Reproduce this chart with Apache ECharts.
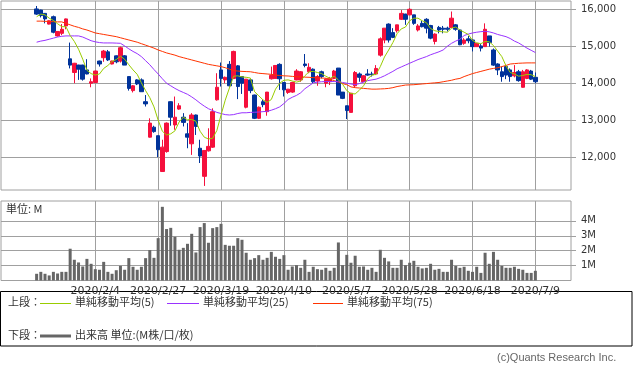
<!DOCTYPE html>
<html><head><meta charset="utf-8">
<script src="https://cdn.jsdelivr.net/npm/echarts@6/dist/echarts.min.js"></script>
<style>html,body{margin:0;padding:0;background:#fff}#c{width:633px;height:373px}</style>
</head><body><div id="c"></div>
<script>
// ---- data ----
const dates = [
'2020/1/15','2020/1/16','2020/1/17','2020/1/20','2020/1/21','2020/1/22','2020/1/23','2020/1/24','2020/1/27','2020/1/28','2020/1/29','2020/1/30','2020/1/31',
'2020/2/3','2020/2/4','2020/2/5','2020/2/6','2020/2/7','2020/2/10','2020/2/12','2020/2/13','2020/2/14','2020/2/17','2020/2/18','2020/2/19','2020/2/20','2020/2/21','2020/2/25','2020/2/26','2020/2/27','2020/2/28',
'2020/3/2','2020/3/3','2020/3/4','2020/3/5','2020/3/6','2020/3/9','2020/3/10','2020/3/11','2020/3/12','2020/3/13','2020/3/16','2020/3/17','2020/3/18','2020/3/19','2020/3/23','2020/3/24','2020/3/25','2020/3/26','2020/3/27','2020/3/30','2020/3/31',
'2020/4/1','2020/4/2','2020/4/3','2020/4/6','2020/4/7','2020/4/8','2020/4/9','2020/4/10','2020/4/13','2020/4/14','2020/4/15','2020/4/16','2020/4/17','2020/4/20','2020/4/21','2020/4/22','2020/4/23','2020/4/24','2020/4/27','2020/4/28','2020/4/30',
'2020/5/1','2020/5/7','2020/5/8','2020/5/11','2020/5/12','2020/5/13','2020/5/14','2020/5/15','2020/5/18','2020/5/19','2020/5/20','2020/5/21','2020/5/22','2020/5/25','2020/5/26','2020/5/27','2020/5/28','2020/5/29',
'2020/6/1','2020/6/2','2020/6/3','2020/6/4','2020/6/5','2020/6/8','2020/6/9','2020/6/10','2020/6/11','2020/6/12','2020/6/15','2020/6/16','2020/6/17','2020/6/18','2020/6/19','2020/6/22','2020/6/23','2020/6/24','2020/6/25','2020/6/26','2020/6/29','2020/6/30',
'2020/7/1','2020/7/2','2020/7/3','2020/7/6','2020/7/7','2020/7/8','2020/7/9'
];
const tickLabels = ['2020/2/4','2020/2/27','2020/3/19','2020/4/10','2020/5/7','2020/5/28','2020/6/18','2020/7/9'];
const priceTicks = [12000,13000,14000,15000,16000];
const volumeTicks = [1,2,3,4];

const open = [16010,15980,15890,15600,15800,15280,15350,15550,14660,14290,14490,14490,14360,14000,14020,14600,14690,14850,14520,14740,14600,14740,14180,13800,14090,14090,13500,12540,12810,12580,11610,12150,13500,12870,13300,13080,12630,12360,13140,12240,11480,12170,12270,13550,14360,14090,14510,14130,14470,14180,13350,14090,13680,13050,13500,13230,14120,14130,14510,14020,13750,13760,14090,14090,14520,14310,14380,14060,14310,14000,14040,14130,14410,13760,13390,13210,13930,14250,14040,14250,14250,14250,14760,15170,15600,15370,15420,15730,15870,15850,15850,15440,15620,15730,15560,15130,15510,15490,15490,15510,15580,15440,15080,15200,15170,14990,15010,14990,15280,14900,14520,14310,14450,14360,14200,14310,13890,14130,14330,14160];
const close = [15870,15830,15740,15690,15380,15400,15460,15740,14490,14540,14380,14110,14250,14040,14330,14520,14870,14630,14600,14580,14960,14490,13860,13930,13980,13770,13440,12920,12690,12200,12270,12920,13080,13080,13390,12940,12540,13140,12830,12030,12180,12290,13230,13890,14130,14160,13930,14860,13910,14000,14110,13800,13050,13350,13420,13760,14210,14480,14120,13820,13840,14020,14330,14310,14480,14430,14040,14180,14180,14110,14130,14330,13680,13590,13260,13730,14290,14160,14200,14220,14230,14400,15200,15490,15170,15240,15580,15890,15730,16000,15620,15550,15530,15490,15220,15330,15440,15460,15460,15760,15460,15040,15170,15150,14990,15080,14950,15460,15100,14490,14360,14180,14220,14180,14290,14070,14310,14360,14110,14040];
const low = [15850,15780,15620,15590,15350,15260,15300,15460,14400,14000,14090,14070,14240,13890,14000,14450,14580,14600,14510,14540,14560,14490,13800,13750,13950,13770,13370,12530,12660,12000,11600,12120,12850,12740,13280,12830,12240,12060,12600,11840,11220,12150,12250,13530,13910,14000,13910,14110,13570,13710,13320,13730,13030,13030,13350,13120,14100,14130,13820,13640,13710,13740,14080,14040,14430,14270,14000,13930,14130,13890,13950,14110,13680,13570,13030,13210,13890,14040,14040,14200,14180,14220,14720,15080,15100,15220,15370,15710,15580,15840,15580,15400,15510,15350,15190,15050,15350,15350,15400,15490,15420,15030,15040,15080,14860,14980,14860,14980,14990,14470,14220,14040,14110,14040,14160,14040,13880,14110,14090,14000];
const high = [16090,15990,15900,15700,15830,15410,15600,15750,15100,14550,14500,14500,14650,14130,14340,14610,14900,14900,14610,14750,14990,14760,14180,13950,14110,14130,13680,13050,12850,12580,12470,12940,13510,13640,13460,13190,12920,13190,13150,12470,12180,12780,13320,14270,14560,14180,14600,14880,14490,14180,14110,14110,13690,13370,13560,13760,14450,14480,14540,14020,13840,14040,14380,14330,14790,14540,14400,14220,14340,14130,14170,14360,14410,13760,13390,13730,14330,14290,14220,14380,14310,14490,15240,15490,15620,15490,15580,15980,15880,16030,15850,15600,15690,15760,15580,15350,15550,15550,15530,15940,15600,15450,15220,15280,15190,15090,15060,15620,15280,14940,14540,14450,14470,14400,14490,14360,14360,14380,14360,14290];

const ma5 = [15800,15870,15850,15760,15700,15610,15530,15530,15290,15130,14920,14650,14350,14260,14220,14250,14400,14480,14590,14640,14730,14650,14500,14360,14240,14010,13800,13610,13360,13000,12700,12600,12630,12710,12950,13080,13010,13020,12970,12700,12540,12490,12510,12720,13140,13540,13870,14190,14200,14170,14160,14140,13770,13660,13550,13480,13560,13840,14000,14080,14090,14060,14030,14060,14200,14310,14320,14290,14260,14190,14130,14190,14090,13970,13800,13720,13710,13810,13930,14120,14220,14240,14450,14710,14900,15100,15340,15470,15520,15690,15760,15760,15690,15640,15480,15420,15400,15390,15380,15490,15520,15440,15380,15320,15160,15090,15070,15130,15120,15020,14870,14720,14470,14290,14250,14190,14210,14240,14230,14180];
const ma25 = [15110,15140,15160,15190,15220,15250,15270,15280,15280,15280,15280,15250,15200,15150,15120,15100,15090,15090,15090,15085,15080,15010,14930,14860,14800,14720,14610,14500,14370,14250,14120,14000,13930,13860,13800,13750,13700,13630,13550,13460,13380,13310,13260,13210,13180,13150,13140,13150,13180,13200,13200,13210,13215,13220,13230,13240,13270,13310,13360,13450,13560,13620,13670,13740,13850,13930,14010,14030,14040,14045,14045,14045,14040,14020,14000,13980,13960,13990,14030,14070,14090,14110,14150,14200,14260,14320,14390,14440,14490,14540,14590,14640,14680,14720,14770,14810,14850,14900,15000,15080,15140,15190,15290,15330,15360,15380,15395,15405,15390,15360,15320,15290,15260,15210,15140,15090,15020,14950,14890,14830];
const ma75 = [15680,15680,15675,15670,15665,15660,15660,15620,15580,15540,15510,15470,15440,15400,15360,15340,15320,15300,15280,15260,15230,15200,15170,15140,15110,15070,15030,14990,14950,14900,14860,14820,14790,14760,14720,14690,14660,14630,14600,14570,14540,14510,14490,14470,14450,14420,14380,14340,14330,14320,14315,14310,14290,14270,14260,14250,14240,14220,14210,14200,14195,14185,14175,14170,14165,14160,14150,14145,14140,14135,14110,14070,14030,13990,13960,13900,13880,13870,13860,13850,13840,13840,13845,13850,13860,13880,13910,13930,13950,13955,13960,13970,13980,13990,14000,14010,14020,14040,14060,14080,14110,14130,14180,14220,14260,14290,14320,14350,14380,14400,14420,14450,14480,14520,14530,14540,14545,14550,14550,14550];

const volume = [0.45,0.58,0.45,0.34,0.58,0.47,0.58,0.58,2.13,1.39,1.21,0.94,1.45,1.12,0.76,0.72,1.25,0.58,0.45,0.69,0.98,0.72,1.50,0.92,0.72,0.92,1.50,2.04,1.52,2.84,4.94,3.45,3.53,2.93,2.06,2.19,2.46,3.13,1.88,3.58,3.85,2.53,3.51,3.58,3.80,2.39,2.33,2.33,2.84,2.73,1.86,1.39,1.50,1.70,1.39,1.52,1.92,1.59,1.45,1.70,0.72,0.94,1.03,0.85,1.39,0.58,0.92,0.76,0.72,0.85,0.65,0.85,2.55,1.03,1.72,1.19,1.66,0.92,0.94,0.72,0.85,0.58,2.06,1.52,1.28,0.85,0.85,1.39,1.03,1.19,1.32,0.92,0.81,0.85,1.12,0.72,0.78,0.58,0.58,1.39,0.98,0.85,0.92,0.65,0.58,0.92,0.51,1.86,1.12,1.92,1.39,0.98,0.85,0.85,0.92,0.78,0.72,0.51,0.51,0.65];

// ---- build ----
const PAD_BEFORE = 8, PAD_AFTER = 8;
const pre = Array.from({length: PAD_BEFORE}, (_, i) => 'pre' + i);
const post = Array.from({length: PAD_AFTER}, (_, i) => 'post' + i);
const cats = pre.concat(dates, post);
const padB = Array(PAD_BEFORE).fill('-'), padA = Array(PAD_AFTER).fill('-');
const ohlc = dates.map((d, i) => [open[i], close[i], low[i], high[i]]);
const pad = arr => padB.concat(arr, padA);
const tickSet = new Set(tickLabels);
const showTick = (idx, val) => tickSet.has(val);

const GRID = '#a0a0a0';
const JP = '"Noto Sans CJK JP"';
const chart = echarts.init(document.getElementById('c'), null, {renderer: 'canvas'});
chart.setOption({
  animation: false,
  backgroundColor: '#fff',
  grid: [
    {left: 1, top: 1, width: 570, height: 189, show: true, borderColor: GRID, borderWidth: 1, containLabel: false},
    {left: 1, top: 201, width: 570, height: 79.5, show: true, borderColor: GRID, borderWidth: 1, containLabel: false}
  ],
  xAxis: [
    {type: 'category', gridIndex: 0, data: cats, boundaryGap: true,
     axisLine: {show: false}, axisTick: {show: false}, axisLabel: {show: false},
     splitLine: {show: true, interval: showTick, alignWithLabel: true, lineStyle: {color: GRID, width: 1}}},
    {type: 'category', gridIndex: 1, data: cats, boundaryGap: true,
     axisLine: {show: false}, axisTick: {show: false},
     axisLabel: {show: true, interval: showTick, color: '#333', fontFamily: 'DejaVu Sans', fontSize: 11, margin: 5},
     splitLine: {show: true, interval: showTick, alignWithLabel: true, lineStyle: {color: GRID, width: 1}}}
  ],
  yAxis: [
    {type: 'value', gridIndex: 0, position: 'right', min: 11110, max: 16225,
     axisLine: {show: false},
     axisTick: {show: true, length: 5, customValues: priceTicks, lineStyle: {color: GRID}},
     axisLabel: {show: true, customValues: priceTicks, color: '#333', fontFamily: 'DejaVu Sans', fontSize: 10, margin: 10,
       formatter: v => Number(v).toLocaleString('en-US')},
     splitLine: {show: true, lineStyle: {color: GRID, width: 1}}},
    {type: 'value', gridIndex: 1, position: 'right', min: 0, max: 5.33,
     axisLine: {show: false},
     axisTick: {show: true, length: 5, customValues: volumeTicks, lineStyle: {color: GRID}},
     axisLabel: {show: true, customValues: volumeTicks, color: '#333', fontFamily: 'DejaVu Sans', fontSize: 10, margin: 10,
       formatter: v => v + 'M'},
     splitLine: {show: true, lineStyle: {color: GRID, width: 1}}}
  ],
  series: [
    {type: 'candlestick', xAxisIndex: 0, yAxisIndex: 0, data: pad(ohlc), barWidth: 4,
     itemStyle: {color: '#f5103c', color0: '#00339a', borderColor: '#f5103c', borderColor0: '#00339a', borderWidth: 1}, z: 2},
    {type: 'line', name: '単純移動平均(75)', xAxisIndex: 0, yAxisIndex: 0, data: pad(ma75), showSymbol: false, symbol: 'none',
     lineStyle: {color: '#ff3300', width: 1}, z: 3},
    {type: 'line', name: '単純移動平均(25)', xAxisIndex: 0, yAxisIndex: 0, data: pad(ma25), showSymbol: false, symbol: 'none',
     lineStyle: {color: '#9933ff', width: 1}, z: 3},
    {type: 'line', name: '単純移動平均(5)', xAxisIndex: 0, yAxisIndex: 0, data: pad(ma5), showSymbol: false, symbol: 'none',
     lineStyle: {color: '#99cc00', width: 1}, z: 3},
    {type: 'bar', name: '出来高', xAxisIndex: 1, yAxisIndex: 1, data: pad(volume), barWidth: 3,
     itemStyle: {color: '#666666'}}
  ],
  graphic: [
    {type: 'text', left: 6, top: 203, style: {text: '単位: M', fill: '#333', font: '11px ' + JP}},
    {type: 'rect', shape: {x: 0.5, y: 291.5, width: 631.5, height: 54.5}, style: {fill: 'none', stroke: '#000', lineWidth: 1}},
    {type: 'text', left: 8, top: 296, style: {text: '上段：', fill: '#333', font: '11px ' + JP}},
    {type: 'line', shape: {x1: 40, y1: 303.5, x2: 71, y2: 303.5}, style: {stroke: '#99cc00', lineWidth: 1}},
    {type: 'text', left: 75, top: 296, style: {text: '単純移動平均(5)', fill: '#333', font: '11px ' + JP}},
    {type: 'line', shape: {x1: 167, y1: 303.5, x2: 199, y2: 303.5}, style: {stroke: '#9933ff', lineWidth: 1}},
    {type: 'text', left: 203, top: 296, style: {text: '単純移動平均(25)', fill: '#333', font: '11px ' + JP}},
    {type: 'line', shape: {x1: 313, y1: 303.5, x2: 343, y2: 303.5}, style: {stroke: '#ff3300', lineWidth: 1}},
    {type: 'text', left: 347, top: 296, style: {text: '単純移動平均(75)', fill: '#333', font: '11px ' + JP}},
    {type: 'text', left: 8, top: 329, style: {text: '下段：', fill: '#333', font: '11px ' + JP}},
    {type: 'line', shape: {x1: 40, y1: 336, x2: 71, y2: 336}, style: {stroke: '#666666', lineWidth: 3}},
    {type: 'text', left: 75, top: 329, style: {text: '出来高 単位:(M株/口/枚)', fill: '#333', font: '11px ' + JP}},
    {type: 'text', left: 497, top: 352, style: {text: '(c)Quants Research Inc.', fill: '#666', font: '11px "Liberation Sans"'}}
  ]
});
</script>
</body></html>
